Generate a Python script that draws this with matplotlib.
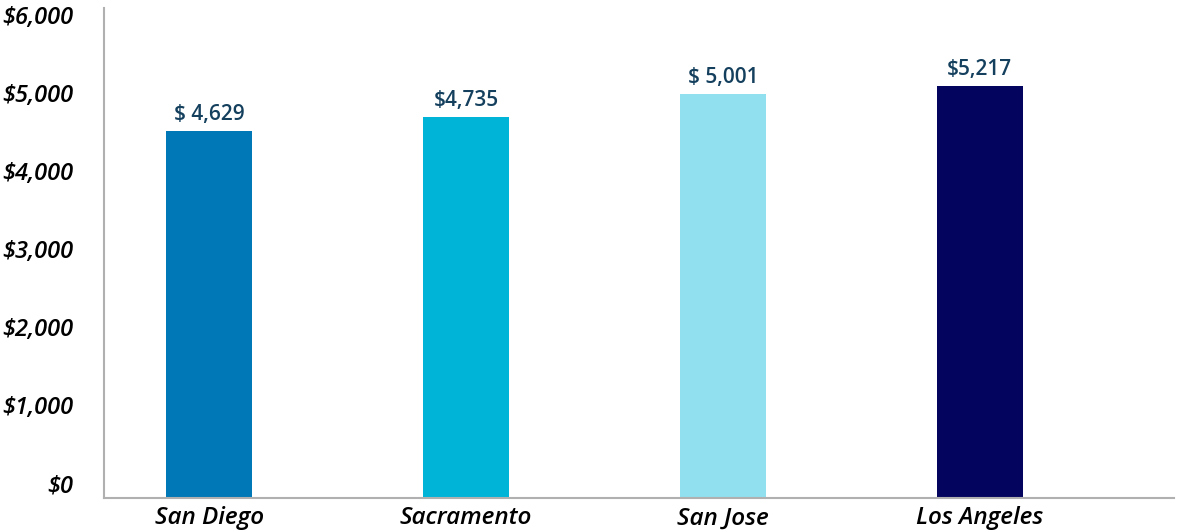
import matplotlib
matplotlib.use('Agg')
import matplotlib.pyplot as plt

# data
cities = ['San Diego', 'Sacramento', 'San Jose', 'Los Angeles']
bar_heights = [4705, 4885, 5180, 5282]
value_labels = ['$ 4,629', '$4,735', '$ 5,001', '$5,217']
bar_colors = ['#0077B6', '#00B4D8', '#90E0EF', '#03045E']
y_ticks = [0, 1000, 2000, 3000, 4000, 5000, 6000]
y_tick_labels = ['$0', '$1,000', '$2,000', '$3,000', '$4,000', '$5,000', '$6,000']

plt.rcParams['font.family'] = ['Open Sans', 'DejaVu Sans']

fig = plt.figure(figsize=(11.86, 5.32), dpi=100)
ax = fig.add_axes([0.0877, 0.0639, 0.902, 0.921])

x = range(len(cities))
bars = ax.bar(x, bar_heights, width=0.335, color=bar_colors)

for rect, lab in zip(bars, value_labels):
    ax.annotate(lab, (rect.get_x() + rect.get_width() / 2, rect.get_height()),
                xytext=(0, 8), textcoords='offset points',
                ha='center', va='baseline', fontsize=15,
                fontweight='semibold', color='#14405e')

ax.set_xlim(-0.41, 3.755)
ax.set_ylim(0, 6280)
ax.set_xticks(list(x))
ax.set_xticklabels(cities, fontsize=17.5, fontstyle='italic', fontweight='semibold')
ax.set_yticks(y_ticks)
ax.set_yticklabels(y_tick_labels, fontsize=17, fontstyle='italic', fontweight='semibold',
                   va='bottom')

ax.tick_params(axis='y', length=0, pad=22)
ax.tick_params(axis='x', length=0, pad=6)

for side in ['top', 'right']:
    ax.spines[side].set_visible(False)
for side in ['left', 'bottom']:
    ax.spines[side].set_color('#b0b0b0')
    ax.spines[side].set_linewidth(1.5)

fig.savefig('out.png', dpi=100)
